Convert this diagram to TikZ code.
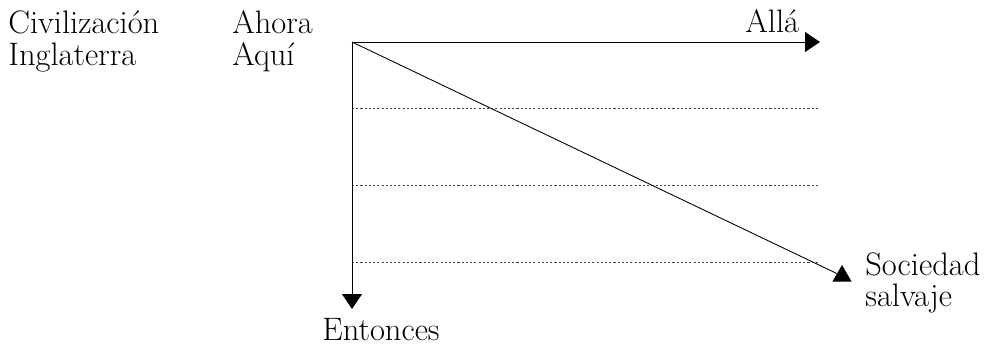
\documentclass[tikz,border=0pt]{standalone}
\usetikzlibrary{arrows.meta,shapes.geometric}
\tikzset{
  eje/.style={line width=0.5pt, -{Triangle[length=0.3cm, width=0.4cm]}},
  guia/.style={dash pattern=on 1.2pt off 1.2pt, line width=0.5pt, black!75},
  rotulo/.style={anchor=base west, inner sep=0pt, font=\fontsize{18.5}{22}\selectfont}
}
\begin{document}
\begin{tikzpicture}[x=0.02cm, y=-0.02cm]
  \useasboundingbox (0,0) rectangle (1000,355);
  \coordinate (o) at (352,42);
  \coordinate (h) at (820,42);
  \coordinate (v) at (352,309);
  \node[rotulo] (civ) at (8,33) {Civilización};   \node[rotulo] (ing) at (8,65) {Inglaterra};
  \node[rotulo] (aho) at (232,33) {Ahora};        \node[rotulo] (aqu) at (232,65) {Aquí};
  \node[rotulo] (all) at (745,32) {Allá};
  \node[rotulo] (ent) at (322,340) {Entonces};
  \node[rotulo, text depth=0pt] (soc) at (865,275) {Sociedad};
  \node[rotulo] (sal) at (865,306) {salvaje};
  \foreach \y/\n in {108/a,185/b,262/c} {
    \coordinate (g\n1) at (352,\y); \coordinate (g\n2) at (820,\y);
    \draw[guia] (g\n1) -- (g\n2);
  }
  \node[regular polygon, regular polygon sides=3, fill=black, inner sep=0pt, minimum size=0.44cm] (tri) at (842,276) {};
  \draw[line width=0.5pt] (o) -- (tri);
  \draw[eje] (o) -- (h);
  \draw[eje] (o) -- (v);
\end{tikzpicture}
\end{document}
